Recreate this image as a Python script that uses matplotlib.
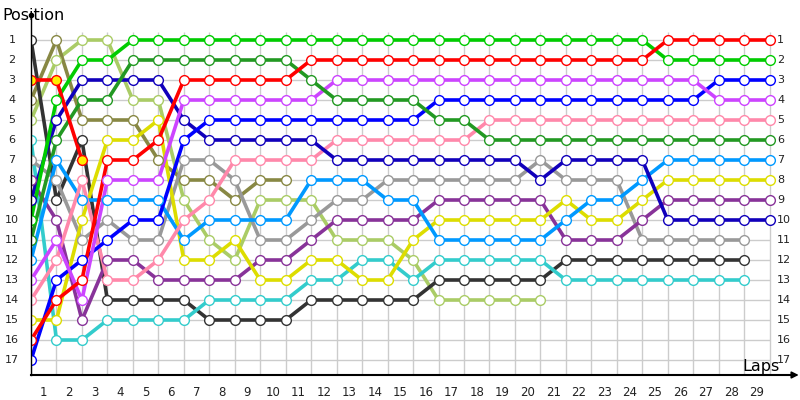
import matplotlib
matplotlib.use("Agg")
import matplotlib.pyplot as plt

# Positions per lap (index = lap number, starting at lap 0)
red        = [16,14,13,7,7,6,3,3,3,3,3,2,2,2,2,2,2,2,2,2,2,2,2,2,2,1,1,1,1,1]
green      = [10,4,2,2,1,1,1,1,1,1,1,1,1,1,1,1,1,1,1,1,1,1,1,1,1,2,2,2,2,2]
dark_green = [11,6,4,4,2,2,2,2,2,2,2,3,4,4,4,4,5,5,6,6,6,6,6,6,6,6,6,6,6,6]
violet     = [13,11,14,8,8,8,4,4,4,4,4,4,3,3,3,3,3,3,3,3,3,3,3,3,3,3,3,4,4,4]
blue       = [17,13,12,11,10,10,6,5,5,5,5,5,5,5,5,5,4,4,4,4,4,4,4,4,4,4,4,3,3,3]
dark_blue  = [9,5,3,3,3,3,5,6,6,6,6,6,7,7,7,7,7,7,7,7,8,7,7,7,7,10,10,10,10,10]
pink       = [14,12,8,13,13,12,10,9,7,7,7,7,6,6,6,6,6,6,5,5,5,5,5,5,5,5,5,5,5,5]
sky_blue   = [12,7,9,9,9,9,11,10,10,10,10,8,8,8,9,9,11,11,11,11,11,10,9,9,8,7,7,7,7,7]
yellow     = [15,15,10,6,6,5,12,12,11,13,13,12,12,13,13,11,10,10,10,10,10,9,10,10,9,8,8,8,8,8]
dark_purple= [8,10,15,12,12,13,13,13,13,12,12,11,10,10,10,10,9,9,9,9,9,11,11,11,10,9,9,9,9,9]
gray       = [7,8,11,10,11,11,7,7,8,11,11,10,9,9,8,8,8,8,8,8,7,8,8,8,11,11,11,11,11]
black      = [1,9,6,14,14,14,14,15,15,15,15,14,14,14,14,14,13,13,13,13,13,12,12,12,12,12,12,12,12]
cyan       = [6,16,16,15,15,15,15,14,14,14,14,13,13,12,12,13,12,12,12,12,12,13,13,13,13,13,13,13,13]
olive      = [4,1,5,5,5,7,8,8,9,8,8]
light_green= [5,2,1,1,4,4,9,11,12,9,9,9,11,11,11,12,14,14,14,14,14]
red_yellow = [3,3,7]

drivers = [
    (light_green, "#AACC66", "white"),
    (olive, "#888844", "white"),
    (black, "#333333", "white"),
    (cyan, "#33CCCC", "white"),
    (gray, "#999999", "white"),
    (dark_purple, "#883399", "white"),
    (yellow, "#DDDD00", "white"),
    (sky_blue, "#0099FF", "white"),
    (pink, "#FF88AA", "white"),
    (dark_blue, "#1100BB", "white"),
    (blue, "#0000FF", "white"),
    (violet, "#CC44FF", "white"),
    (dark_green, "#229922", "white"),
    (green, "#00CC00", "white"),
    (red, "#FF0000", "white"),
    (red_yellow, "#FF0000", "#FFEE00"),
]

n_laps = 29
positions = list(range(1, 18))
lap_labels = [str(i) for i in range(1, n_laps + 1)]

fig = plt.figure(figsize=(8, 4), dpi=100)
ax = fig.add_axes([31/800, 25/400, (790-31)/800, (375-15)/400])
ax.set_xlim(0, 29.8)
ax.set_ylim(17.75, -0.25)
ax.axis("off")

# grid
ax.hlines(positions, 0, n_laps, colors="#CCCCCC", linewidth=1, zorder=0)
ax.vlines(range(0, n_laps + 1), 0.6, 17.75, colors="#CCCCCC", linewidth=1, zorder=0)

# lines
for vals, col, face in drivers:
    ax.plot(range(len(vals)), vals, color=col, linewidth=2.6, zorder=2,
            solid_capstyle="round")
# markers
for vals, col, face in drivers:
    ax.plot(range(len(vals)), vals, linestyle="none", marker="o",
            markersize=7, markerfacecolor=face, markeredgecolor=col,
            markeredgewidth=1.0, zorder=3, alpha=1)

# axes lines with arrows
ax.plot([0, 0], [17.75, -0.25], color="black", linewidth=1, zorder=4, clip_on=False)
ax.plot([0], [-0.25], marker="o", color="black", markersize=3, clip_on=False, zorder=5)
ax.plot([0, 29.8], [17.75, 17.75], color="black", linewidth=1.5, zorder=4, clip_on=False)
ax.annotate("", xy=(30.25, 17.75), xytext=(29.3, 17.75),
            arrowprops=dict(arrowstyle="-|>", color="black", lw=1.2,
                            mutation_scale=10), annotation_clip=False)

# tick labels
for p in positions:
    ax.text(-0.75, p, str(p), ha="center", va="center", fontsize=8, color="#222222")
    ax.text(n_laps + 0.3, p, str(p), ha="left", va="center", fontsize=8, color="#222222")
for i, lab in enumerate(lap_labels):
    ax.text(i + 0.5, 18.6, lab, ha="center", va="center", fontsize=8.5, color="#222222",
            clip_on=False)

fig.text(2/800, 1 - 15/400, "Position", ha="left", va="center", fontsize=11.5)
fig.text(742/800, 1 - 366/400, "Laps", ha="left", va="center", fontsize=11.5)

fig.savefig("out.png", dpi=100)
